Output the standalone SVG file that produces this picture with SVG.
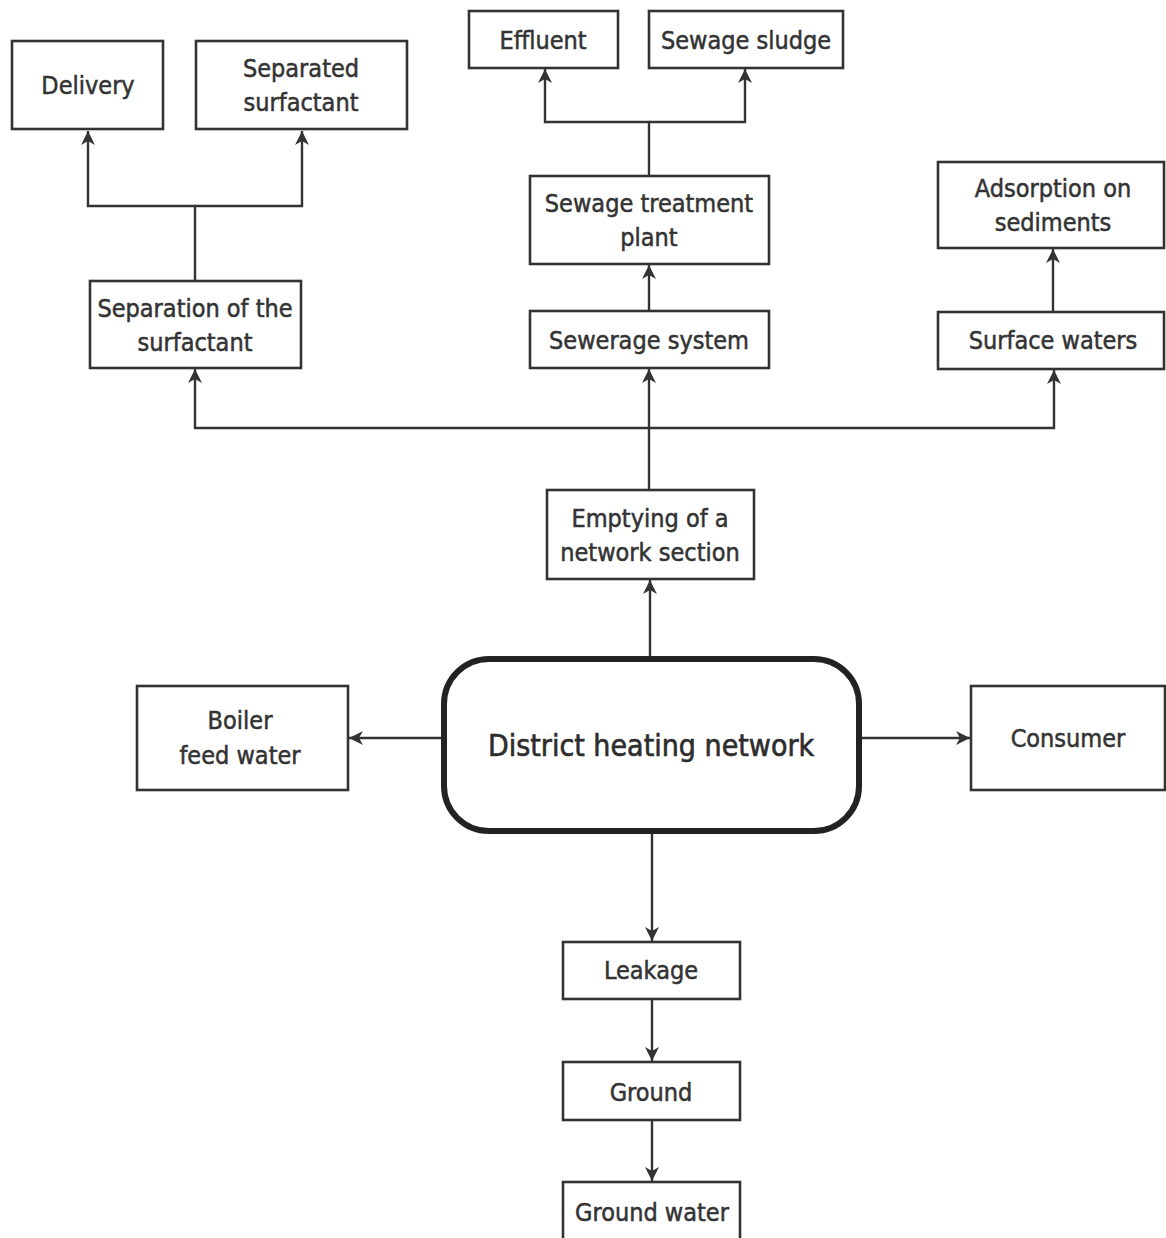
<svg xmlns="http://www.w3.org/2000/svg" width="1166" height="1238" viewBox="0 0 1166 1238">
<defs>
<style>
.box{fill:#fff;stroke:#333;stroke-width:2.6}
.main{fill:#fff;stroke:#222;stroke-width:6}
.t{font-family:"DejaVu Sans Condensed","Liberation Sans",sans-serif;font-size:25px;fill:#333;stroke:#333;stroke-width:0.5;text-anchor:middle;dominant-baseline:central}
.tm{font-family:"DejaVu Sans Condensed","Liberation Sans",sans-serif;font-size:30px;fill:#2d2d2d;stroke:#2d2d2d;stroke-width:0.6;text-anchor:middle;dominant-baseline:central}
.c{fill:none;stroke:#333;stroke-width:2.4}
</style>
<marker id="ah" markerUnits="userSpaceOnUse" markerWidth="16" markerHeight="14" refX="14" refY="7" orient="auto">
<path d="M0,0 L14,7 L0,14 L4,7 z" fill="#333"/>
</marker>
</defs>
<rect width="1166" height="1238" fill="#fff"/>
<g id="connectors">
<path class="c" d="M195,281 V206 H88 V131" marker-end="url(#ah)"/>
<path class="c" d="M195,206 H302 V131" marker-end="url(#ah)"/>
<path class="c" d="M649,176 V122 H545 V69" marker-end="url(#ah)"/>
<path class="c" d="M649,122 H745 V69" marker-end="url(#ah)"/>
<path class="c" d="M649,311 V265" marker-end="url(#ah)"/>
<path class="c" d="M649,490 V369" marker-end="url(#ah)"/>
<path class="c" d="M649,428 H195 V369" marker-end="url(#ah)"/>
<path class="c" d="M649,428 H1054 V370" marker-end="url(#ah)"/>
<path class="c" d="M1053,312 V249" marker-end="url(#ah)"/>
<path class="c" d="M650,658 V580" marker-end="url(#ah)"/>
<path class="c" d="M443,738 H349" marker-end="url(#ah)"/>
<path class="c" d="M860,738 H970" marker-end="url(#ah)"/>
<path class="c" d="M652,832 V941" marker-end="url(#ah)"/>
<path class="c" d="M652,999 V1061" marker-end="url(#ah)"/>
<path class="c" d="M652,1120 V1181" marker-end="url(#ah)"/>
</g>
<g id="delivery"><rect class="box" x="12" y="41" width="151" height="88"/><text class="t" x="88" y="85">Delivery</text></g>
<g id="separated-surfactant"><rect class="box" x="196" y="41" width="211" height="88"/><text class="t" x="301" y="68">Separated</text><text class="t" x="301" y="102">surfactant</text></g>
<g id="separation"><rect class="box" x="90" y="281" width="211" height="87"/><text class="t" x="195" y="308">Separation of the</text><text class="t" x="195" y="342">surfactant</text></g>
<g id="effluent"><rect class="box" x="469" y="11" width="149" height="57"/><text class="t" x="543" y="40">Effluent</text></g>
<g id="sewage-sludge"><rect class="box" x="649" y="11" width="194" height="57"/><text class="t" x="746" y="40">Sewage sludge</text></g>
<g id="sewage-treatment"><rect class="box" x="530" y="176" width="239" height="88"/><text class="t" x="649" y="203">Sewage treatment</text><text class="t" x="649" y="237">plant</text></g>
<g id="sewerage"><rect class="box" x="530" y="311" width="239" height="57"/><text class="t" x="649" y="340">Sewerage system</text></g>
<g id="adsorption"><rect class="box" x="938" y="162" width="226" height="86"/><text class="t" x="1053" y="188">Adsorption on</text><text class="t" x="1053" y="222">sediments</text></g>
<g id="surface-waters"><rect class="box" x="938" y="312" width="226" height="57"/><text class="t" x="1053" y="340">Surface waters</text></g>
<g id="emptying"><rect class="box" x="547" y="490" width="207" height="89"/><text class="t" x="650" y="518">Emptying of a</text><text class="t" x="650" y="552">network section</text></g>
<g id="dhn"><rect class="main" x="444" y="659" width="415" height="172" rx="45" ry="45"/><text class="tm" x="651" y="745">District heating network</text></g>
<g id="boiler"><rect class="box" x="137" y="686" width="211" height="104"/><text class="t" x="240" y="720">Boiler</text><text class="t" x="240" y="755">feed water</text></g>
<g id="consumer"><rect class="box" x="971" y="686" width="194" height="104"/><text class="t" x="1068" y="738">Consumer</text></g>
<g id="leakage"><rect class="box" x="563" y="942" width="177" height="57"/><text class="t" x="651" y="970">Leakage</text></g>
<g id="ground"><rect class="box" x="563" y="1062" width="177" height="58"/><text class="t" x="651" y="1092">Ground</text></g>
<g id="ground-water"><rect class="box" x="563" y="1182" width="177" height="60"/><text class="t" x="652" y="1212">Ground water</text></g>
</svg>
